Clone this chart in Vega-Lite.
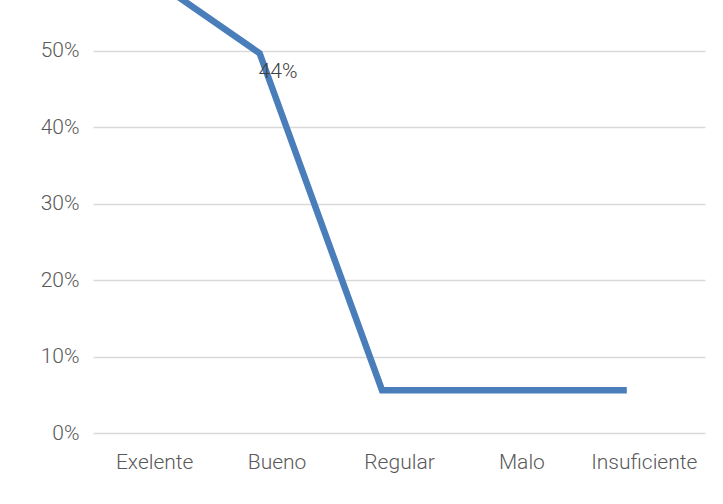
{
  "$schema": "https://vega.github.io/schema/vega-lite/v6.json",
  "autosize": {"type": "none"},
  "width": 612,
  "height": 433,
  "padding": {"left": 93, "top": 0, "right": 18, "bottom": 71},
  "background": "white",
  "config": {
    "view": {"stroke": null},
    "font": "Roboto",
    "axis": {"labelFont": "Roboto", "labelFontSize": 21, "labelFontWeight": 300, "labelColor": "#595959", "gridColor": "#d9d9d9", "gridWidth": 1.5, "domain": false, "ticks": false}
  },
  "data": {
    "values": [
      {"categoria": "Exelente", "valor": 0.608, "etiqueta": ""},
      {"categoria": "Bueno", "valor": 0.497, "etiqueta": "44%"},
      {"categoria": "Regular", "valor": 0.056, "etiqueta": ""},
      {"categoria": "Malo", "valor": 0.056, "etiqueta": ""},
      {"categoria": "Insuficiente", "valor": 0.056, "etiqueta": ""}
    ]
  },
  "encoding": {
    "x": {
      "field": "categoria", "type": "nominal", "sort": null,
      "scale": {"type": "point", "padding": 0.5},
      "axis": {"title": null, "labelAngle": 0, "labelPadding": 18, "grid": false}
    },
    "y": {
      "field": "valor", "type": "quantitative",
      "scale": {"domain": [0, 0.5667], "nice": false, "zero": true},
      "axis": {"title": null, "format": ".0%", "values": [0, 0.1, 0.2, 0.3, 0.4, 0.5], "labelPadding": 14, "grid": true}
    }
  },
  "layer": [
    {
      "mark": {"type": "line", "color": "#4a7ebb", "strokeWidth": 6.5, "xOffset": -17, "clip": true, "strokeCap": "butt", "strokeJoin": "miter"}
    },
    {
      "mark": {"type": "text", "align": "left", "baseline": "alphabetic", "dx": -18, "dy": 25, "fontSize": 21, "fontWeight": 300, "color": "#404040", "font": "Roboto"},
      "encoding": {"text": {"field": "etiqueta"}}
    }
  ]
}
